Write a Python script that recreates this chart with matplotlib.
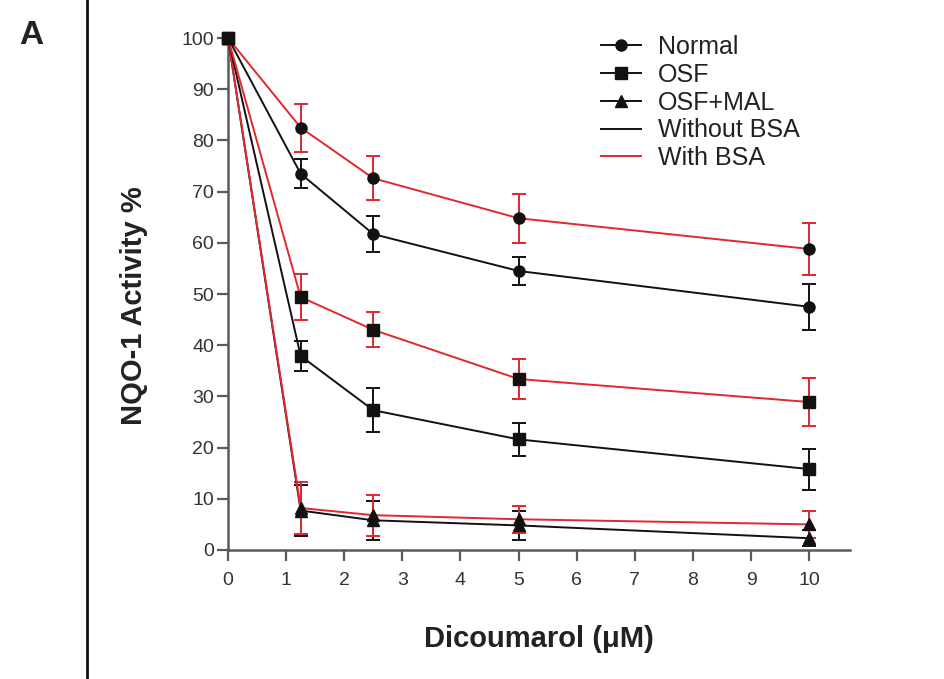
import matplotlib
matplotlib.use("Agg")
import matplotlib.pyplot as plt
from matplotlib.lines import Line2D

plt.rcParams["font.family"] = ["Liberation Sans", "DejaVu Sans"]

dose = [0, 1.25, 2.5, 5, 10]

normal_no_bsa = [100, 73.5, 61.7, 54.5, 47.5]
normal_no_bsa_err = [0, 2.8, 3.5, 2.8, 4.5]
normal_bsa = [100, 82.5, 72.6, 64.8, 58.8]
normal_bsa_err = [0, 4.7, 4.3, 4.8, 5.0]

osf_no_bsa = [100, 37.9, 27.3, 21.6, 15.8]
osf_no_bsa_err = [0, 3.0, 4.3, 3.2, 4.0]
osf_bsa = [100, 49.4, 43.0, 33.4, 28.9]
osf_bsa_err = [0, 4.5, 3.4, 4.0, 4.7]

mal_no_bsa = [100, 7.7, 5.8, 4.8, 2.3]
mal_no_bsa_err = [0, 5.0, 3.8, 2.8, 1.6]
mal_bsa = [100, 8.2, 6.8, 6.0, 5.0]
mal_bsa_err = [0, 5.0, 4.0, 2.6, 2.6]

RED = "#e0282e"
BLACK = "#111111"
AXIS = "#5a5a5a"
TEXT = "#222222"

fig = plt.figure(figsize=(9.45, 6.79), dpi=100)
ax = fig.add_axes([0.2413, 0.19, 0.658, 0.754])

series = [
    (normal_no_bsa, normal_no_bsa_err, "o", BLACK),
    (normal_bsa, normal_bsa_err, "o", RED),
    (mal_no_bsa, mal_no_bsa_err, "^", BLACK),
    (mal_bsa, mal_bsa_err, "^", RED),
    (osf_no_bsa, osf_no_bsa_err, "s", BLACK),
    (osf_bsa, osf_bsa_err, "s", RED),
]
for values, errors, marker, color in series:
    ax.errorbar(dose, values, yerr=errors, color=color, lw=1.4, marker=marker,
                markersize=8, markerfacecolor=BLACK, markeredgecolor=BLACK,
                ecolor=color, elinewidth=1.4, capsize=5, capthick=1.4,
                clip_on=False, zorder=3)

ax.set_xlim(0, 10.7)
ax.set_ylim(0, 100)
ax.set_xticks(range(0, 11))
ax.set_yticks(range(0, 101, 10))
ax.spines[["top", "right"]].set_visible(False)
for side in ["left", "bottom"]:
    ax.spines[side].set_color(AXIS)
    ax.spines[side].set_linewidth(1.8)
ax.tick_params(axis="both", colors=AXIS, labelcolor="#333333", labelsize=14,
               width=1.6, length=8)
ax.tick_params(axis="x", pad=8)
ax.tick_params(axis="y", pad=2)
ax.set_xlabel("Dicoumarol (\u03bcM)", fontsize=21, fontweight="bold", labelpad=26,
              color=TEXT)
ax.set_ylabel("NQO-1 Activity %", fontsize=21, fontweight="bold", color=TEXT)
ax.yaxis.set_label_coords(-0.128, 0.478)

handles = [
    Line2D([], [], color=BLACK, marker="o", markersize=8, lw=1.4),
    Line2D([], [], color=BLACK, marker="s", markersize=8, lw=1.4),
    Line2D([], [], color=BLACK, marker="^", markersize=8, lw=1.4),
    Line2D([], [], color=BLACK, lw=1.4),
    Line2D([], [], color=RED, lw=1.4),
]
labels = ["Normal", "OSF", "OSF+MAL", "Without BSA", "With BSA"]
ax.legend(handles, labels, loc="upper left", bbox_to_anchor=(0.583, 1.025),
          frameon=False, fontsize=18, handlelength=1.6, labelspacing=0.15,
          handletextpad=0.7, labelcolor=TEXT, borderaxespad=0)

fig.add_artist(Line2D([87 / 945, 87 / 945], [0, 1], color=BLACK, lw=2))
fig.text(31 / 945, 1 - 36 / 679, "A", fontsize=24, fontweight="bold",
         ha="center", va="center", color=TEXT)

fig.savefig("out.png", dpi=100)
